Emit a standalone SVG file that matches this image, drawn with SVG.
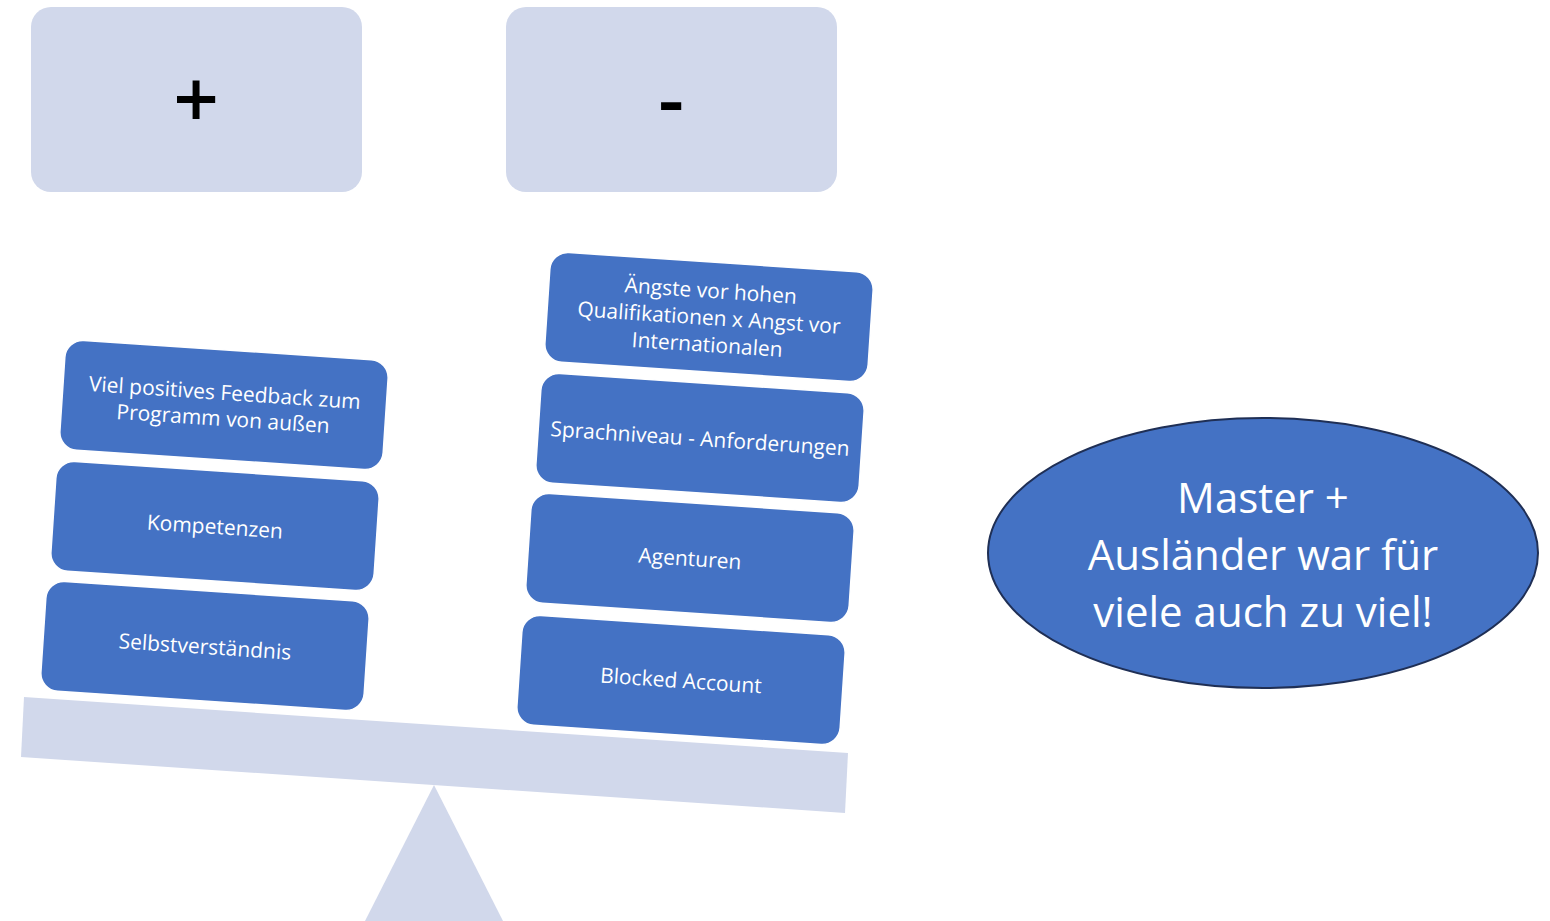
<svg xmlns="http://www.w3.org/2000/svg" width="1550" height="921" viewBox="0 0 1550 921">
<style>
.light{fill:#D1D8EB;}
.box{fill:#4472C4;stroke:#ffffff;stroke-width:1.5;}
.t{font-family:"Open Sans","Liberation Sans",sans-serif;font-size:21px;fill:#ffffff;text-anchor:middle;}
.big{font-family:"Open Sans","Liberation Sans",sans-serif;font-size:80px;font-weight:600;fill:#000000;text-anchor:middle;}
.el{font-family:"Open Sans","Liberation Sans",sans-serif;font-size:42px;fill:#ffffff;text-anchor:middle;}
</style>
<rect width="1550" height="921" fill="#ffffff"/>
<g id="header-plus"><rect class="light" x="31" y="7" width="331" height="185" rx="20"/><text class="big" x="196" y="128">+</text></g>
<g id="header-minus"><rect class="light" x="506" y="7" width="331" height="185" rx="20"/><text class="big" x="671" y="128">-</text></g>
<g id="fulcrum"><polygon class="light" points="434,785 365,921 503,921"/></g>
<g id="beam"><polygon class="light" points="24,697 848,753 845,813 21,757"/></g>
<g id="plus1" transform="translate(224,405) rotate(3.8)"><rect class="box" x="-162" y="-55" width="324" height="110" rx="18"/><text class="t" y="-5">Viel positives Feedback zum</text><text class="t" y="21">Programm von außen</text></g>
<g id="plus2" transform="translate(215,526) rotate(3.8)"><rect class="box" x="-162" y="-55" width="324" height="110" rx="18"/><text class="t" y="8">Kompetenzen</text></g>
<g id="plus3" transform="translate(205,646) rotate(3.8)"><rect class="box" x="-162" y="-55" width="324" height="110" rx="18"/><text class="t" y="8">Selbstverständnis</text></g>
<g id="minus1" transform="translate(709,317) rotate(3.8)"><rect class="box" x="-162" y="-55" width="324" height="110" rx="18"/><text class="t" y="-19">Ängste vor hohen</text><text class="t" y="8">Qualifikationen x Angst vor</text><text class="t" y="35">Internationalen</text></g>
<g id="minus2" transform="translate(700,438) rotate(3.8)"><rect class="box" x="-162" y="-55" width="324" height="110" rx="18"/><text class="t" y="8">Sprachniveau - Anforderungen</text></g>
<g id="minus3" transform="translate(690,558) rotate(3.8)"><rect class="box" x="-162" y="-55" width="324" height="110" rx="18"/><text class="t" y="8">Agenturen</text></g>
<g id="minus4" transform="translate(681,680) rotate(3.8)"><rect class="box" x="-162" y="-55" width="324" height="110" rx="18"/><text class="t" y="8">Blocked Account</text></g>
<g id="conclusion"><ellipse cx="1263" cy="553" rx="275" ry="135" fill="#4472C4" stroke="#1F2F55" stroke-width="2"/><text class="el" x="1263" y="513">Master +</text><text class="el" x="1263" y="570">Ausländer war für</text><text class="el" x="1263" y="627">viele auch zu viel!</text></g>
<g id="connectors"/>
</svg>
